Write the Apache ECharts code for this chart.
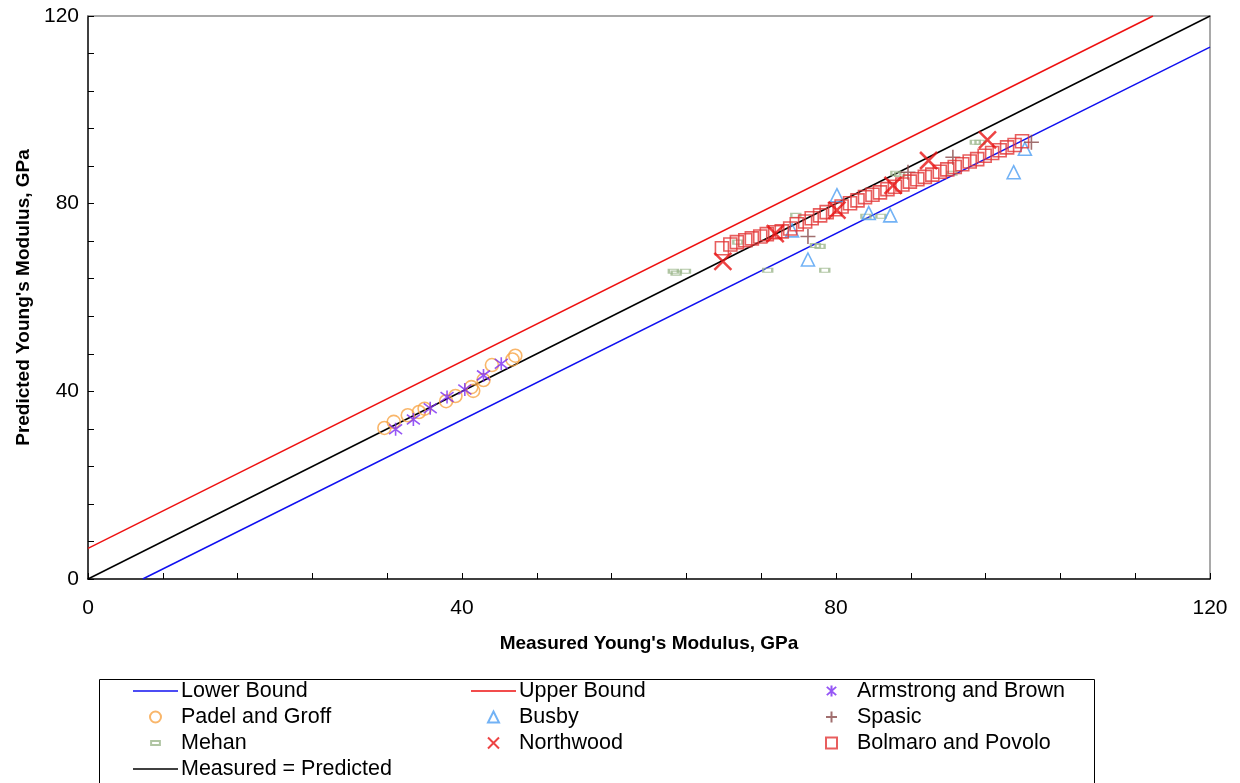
<!DOCTYPE html>
<html>
<head>
<meta charset="utf-8">
<script src="https://cdn.jsdelivr.net/npm/echarts@6/dist/echarts.min.js"></script>
<style>
  html, body { margin: 0; padding: 0; background: #ffffff; }
  #chart { width: 1240px; height: 783px; }
</style>
</head>
<body>
<div id="chart"></div>
<script>
// Axis ticks (GPa), shared by both axes
const axisTicks = [0, 40, 80, 120];

// Reference lines: [measured, predicted] end points
const lowerBound = [[5.85, 0], [120, 113.35]];
const upperBound = [[0, 6.54], [113.9, 120]];
const identityLine = [[0, 0], [120, 120]];

// Data sets: [measured, predicted] in GPa
const armstrongBrown = [
  [32.9, 31.9], [34.8, 34.0], [36.6, 36.4], [38.4, 38.8],
  [40.3, 40.4], [42.3, 43.4], [44.2, 45.9]
];
const padelGroff = [
  [31.7, 32.2], [32.7, 33.5], [34.2, 34.9], [35.4, 35.6], [36.0, 36.3],
  [38.3, 37.9], [39.3, 39.0], [41.0, 40.9], [41.2, 40.1], [42.3, 42.4],
  [43.2, 45.6], [45.4, 46.8], [45.7, 47.6]
];
const busby = [
  [77.0, 68.1], [75.3, 74.3], [80.1, 81.8], [83.5, 78.0],
  [85.8, 77.5], [99.0, 86.7], [100.2, 91.7]
];
const spasic = [
  [77.0, 73.0], [87.7, 86.7], [92.5, 89.9], [100.9, 93.1]
];
const mehan = [
  [62.6, 65.6], [62.9, 65.2], [63.9, 65.6], [72.7, 65.8], [69.5, 71.8],
  [77.8, 71.1], [78.3, 70.9], [78.8, 65.8], [75.7, 77.5], [83.2, 77.3],
  [84.8, 77.3], [86.4, 86.5], [86.8, 86.2], [92.4, 86.5], [94.9, 93.1],
  [95.4, 93.1]
];
const northwood = [
  [67.9, 67.7], [73.5, 73.6], [80.1, 78.6], [86.1, 83.9], [89.9, 89.2], [96.2, 93.6]
];
const bolmaroPovolo = [
  [67.8, 70.5], [68.7, 71.3], [69.4, 71.8], [70.3, 72.2], [71.0, 72.6],
  [71.9, 73.0], [72.6, 73.5], [73.5, 73.9], [74.2, 74.1], [75.1, 74.7],
  [75.8, 75.6], [76.7, 76.2], [77.4, 76.9], [78.3, 77.5], [79.0, 78.2],
  [79.9, 78.8], [80.6, 79.4], [81.5, 80.1], [82.3, 80.7], [83.1, 81.4],
  [83.9, 81.9], [84.7, 82.4], [85.5, 83.1], [86.3, 83.6], [87.1, 84.1],
  [87.9, 84.7], [88.7, 85.2], [89.5, 85.7], [90.3, 86.2], [91.1, 86.8],
  [91.9, 87.3], [92.7, 87.8], [93.5, 88.4], [94.3, 89.0], [95.1, 89.5],
  [95.9, 90.2], [96.7, 90.8], [97.5, 91.4], [98.3, 92.0], [99.1, 92.5],
  [99.9, 93.3]
];

const FONT = '"Liberation Sans", Arial, Helvetica, sans-serif';

// Marker outlines
const STAR = 'path://M0,-1L0,1M-0.85,-0.75L0.85,0.75M-0.85,0.75L0.85,-0.75';
const PLUS = 'path://M0,-1L0,1M-1,0L1,0';
const CROSS = 'path://M-1,-1L1,1M-1,1L1,-1';
// Legend swatches (square bounding boxes keep the icons small)
const DASH_ICON = 'path://M0,0M10,10M1,3.2h8v3.6h-8z';
const TRI_ICON = 'path://M5,0L10,10L0,10Z';
const SQUARE_ICON = 'path://M0,0h10v10h-10z';
const LINE_ICON = 'path://M0,0h45v1.6h-45z';

function hollow(color, width) {
  return { color: 'rgba(0,0,0,0)', borderColor: color, borderWidth: width };
}

function refLine(name, data, color) {
  return {
    name: name, type: 'line', data: data, symbol: 'none', z: 1,
    lineStyle: { color: color, width: 1.5 },
    itemStyle: { color: color },
    silent: true
  };
}

function scatter(name, data, symbol, size, style, z) {
  return {
    name: name, type: 'scatter', data: data, symbol: symbol,
    symbolSize: size, itemStyle: style, z: z, silent: true
  };
}

const step = axisTicks[1] - axisTicks[0];
const axMin = axisTicks[0];
const axMax = axisTicks[axisTicks.length - 1];

function mainAxis(name, nameGap, labelMargin) {
  return {
    type: 'value', min: axMin, max: axMax, interval: step,
    name: name, nameLocation: 'middle', nameGap: nameGap,
    nameTextStyle: { fontFamily: FONT, fontSize: 19, fontWeight: 'bold', color: '#000' },
    axisLine: { show: true, onZero: false, lineStyle: { color: '#000', width: 1.5 } },
    axisTick: { show: true, inside: true, length: 6, lineStyle: { color: '#000', width: 1 } },
    minorTick: { show: true, splitNumber: 5, length: 6, lineStyle: { color: '#000', width: 1 } },
    splitLine: { show: false },
    axisLabel: { fontFamily: FONT, fontSize: 21, color: '#000', margin: labelMargin }
  };
}

function frameAxis(position) {
  return {
    type: 'value', min: axMin, max: axMax, position: position,
    axisLine: { show: true, onZero: false, lineStyle: { color: '#8c8c8c', width: 1.5 } },
    axisTick: { show: false }, axisLabel: { show: false }, splitLine: { show: false }
  };
}

const legendBase = {
  orient: 'vertical', top: 680, width: 400, height: 140,
  itemWidth: 45, itemHeight: 11, itemGap: 4,
  padding: 0, selectedMode: false,
  textStyle: { fontFamily: FONT, fontSize: 21.5, color: '#000', lineHeight: 22, padding: [0, 0, 0, -2] }
};

const chart = echarts.init(document.getElementById('chart'), null, { renderer: 'canvas' });
chart.setOption({
  animation: false,
  backgroundColor: '#ffffff',
  grid: { left: 88, right: 30, top: 16, bottom: 204, containLabel: false },
  xAxis: [
    Object.assign(mainAxis("Measured Young's Modulus, GPa", 55, 19), { position: 'bottom' }),
    frameAxis('top')
  ],
  yAxis: [
    Object.assign(mainAxis("Predicted Young's Modulus, GPa", 47, 9), { position: 'left' }),
    frameAxis('right')
  ],
  legend: [
    Object.assign({}, legendBase, {
      left: 133,
      data: [
        { name: 'Lower Bound', icon: LINE_ICON },
        'Padel and Groff',
        { name: 'Mehan', icon: DASH_ICON },
        { name: 'Measured = Predicted', icon: LINE_ICON }
      ]
    }),
    Object.assign({}, legendBase, {
      left: 471,
      data: [
        { name: 'Upper Bound', icon: LINE_ICON },
        { name: 'Busby', icon: TRI_ICON },
        'Northwood'
      ]
    }),
    // this column has only small icons, so its box starts at the icon, not the swatch edge
    Object.assign({}, legendBase, {
      left: 825,
      data: ['Armstrong and Brown', 'Spasic', { name: 'Bolmaro and Povolo', icon: SQUARE_ICON }]
    })
  ],
  graphic: [{
    type: 'rect', left: 97, top: 677, silent: true,
    shape: { width: 995, height: 104 },
    style: { fill: 'none', stroke: '#000', lineWidth: 1 }
  }],
  series: [
    refLine('Lower Bound', lowerBound, '#1010f0'),
    refLine('Upper Bound', upperBound, '#ee1111'),
    refLine('Measured = Predicted', identityLine, '#000000'),
    scatter('Mehan', mehan, 'rect', [9, 4], hollow('#9cb78c', 1.6), 3),
    scatter('Busby', busby, 'triangle', 13, hollow('#4f9ff2', 1.6), 4),
    scatter('Spasic', spasic, PLUS, 15, hollow('#8a4b4b', 1.6), 4),
    scatter('Padel and Groff', padelGroff, 'circle', 13, hollow('#f7a445', 1.6), 5),
    scatter('Armstrong and Brown', armstrongBrown, STAR, 13, hollow('#7a2cf2', 1.6), 6),
    scatter('Bolmaro and Povolo', bolmaroPovolo, 'rect', 13, hollow('#e23636', 1.6), 6),
    scatter('Northwood', northwood, CROSS, 17, hollow('#e81414', 2.5), 7)
  ]
});
</script>
</body>
</html>
